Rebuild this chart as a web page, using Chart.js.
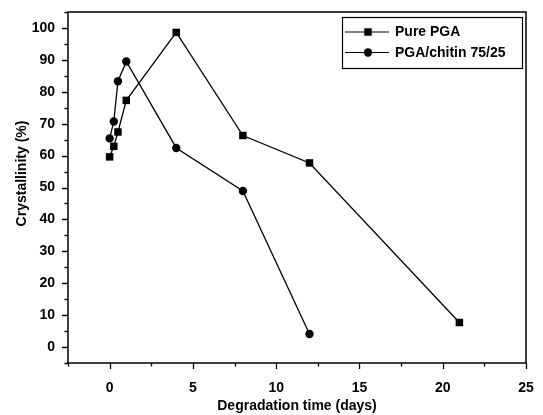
<!DOCTYPE html>
<html>
<head>
<meta charset="utf-8">
<script src="https://cdn.jsdelivr.net/npm/chart.js@4.4.0/dist/chart.umd.min.js"></script>
<style>
  html, body { margin: 0; padding: 0; background: #fff; }
  #wrap { width: 543px; height: 415px; }
</style>
</head>
<body>
<div id="wrap"><canvas id="crystChart" width="543" height="415"></canvas></div>
<script>
// Degradation time (days) for each series
const pgaDays = [0, 0.25, 0.5, 1, 4, 8, 12, 21];
const chitinDays = [0, 0.25, 0.5, 1, 4, 8, 12];

// Crystallinity (%) values
const pgaValues = [59.6, 62.9, 67.4, 77.3, 98.6, 66.3, 57.7, 7.7];
const chitinValues = [65.4, 70.7, 83.3, 89.5, 62.4, 48.9, 4.1];

const seriesNames = ['Pure PGA', 'PGA/chitin 75/25'];

const xLabels = [0, 5, 10, 15, 20, 25];
const yLabels = [0, 10, 20, 30, 40, 50, 60, 70, 80, 90, 100];

const fontFamily = '"Liberation Sans", Arial, sans-serif';

function toPoints(xs, ys) {
  return xs.map((x, i) => ({ x: x, y: ys[i] }));
}

// Box around the plot area plus major/minor tick marks
const frameAndTicks = {
  id: 'frameAndTicks',
  afterDraw(chart) {
    const { ctx, chartArea: a, scales: { x, y } } = chart;
    ctx.save();
    ctx.strokeStyle = '#000';
    ctx.lineWidth = 1.5;
    ctx.strokeRect(a.left, a.top, a.right - a.left, a.bottom - a.top);

    ctx.lineWidth = 1.3;
    ctx.beginPath();
    x.ticks.forEach(t => {
      const px = Math.round(x.getPixelForValue(t.value)) + 0.5;
      const len = xLabels.includes(t.value) ? 6 : 3.5;
      ctx.moveTo(px, a.bottom);
      ctx.lineTo(px, a.bottom + len);
    });
    y.ticks.forEach(t => {
      const py = Math.round(y.getPixelForValue(t.value)) + 0.5;
      const len = yLabels.includes(t.value) ? 6 : 3.5;
      ctx.moveTo(a.left, py);
      ctx.lineTo(a.left - len, py);
    });
    ctx.stroke();
    ctx.restore();
  }
};

// Legend in a box: line through marker, then label
const boxLegend = {
  id: 'boxLegend',
  afterDraw(chart) {
    const ctx = chart.ctx;
    const box = { left: 342, top: 17, right: 522, bottom: 68 };
    ctx.save();
    ctx.strokeStyle = '#000';
    ctx.lineWidth = 1.2;
    ctx.strokeRect(box.left + 0.5, box.top + 0.5, box.right - box.left, box.bottom - box.top);

    chart.data.datasets.forEach((ds, i) => {
      const rowY = 32 + i * 20.5;
      ctx.lineWidth = 1.2;
      ctx.beginPath();
      ctx.moveTo(345, rowY);
      ctx.lineTo(389, rowY);
      ctx.stroke();
      ctx.fillStyle = '#000';
      Chart.helpers.drawPoint(ctx, {
        pointStyle: ds.pointStyle,
        radius: ds.pointRadius,
        borderWidth: 0,
        rotation: 0
      }, 368, rowY);
      ctx.font = 'bold 14px ' + fontFamily;
      ctx.textBaseline = 'middle';
      ctx.textAlign = 'left';
      ctx.fillText(ds.label, 395, rowY + 0.5);
    });
    ctx.restore();
  }
};

const ctx = document.getElementById('crystChart').getContext('2d');

const myChart = new Chart(ctx, {
  type: 'scatter',
  data: {
    datasets: [
      {
        label: seriesNames[0],
        data: toPoints(pgaDays, pgaValues),
        showLine: true,
        borderColor: '#000',
        backgroundColor: '#000',
        borderWidth: 1.3,
        pointStyle: 'rect',
        pointRadius: 5.3,
        pointBorderWidth: 0,
        tension: 0
      },
      {
        label: seriesNames[1],
        data: toPoints(chitinDays, chitinValues),
        showLine: true,
        borderColor: '#000',
        backgroundColor: '#000',
        borderWidth: 1.3,
        pointStyle: 'circle',
        pointRadius: 4.2,
        pointBorderWidth: 0,
        tension: 0
      }
    ]
  },
  options: {
    responsive: false,
    animation: false,
    events: [],
    layout: { padding: { top: 12, right: 17, left: 0, bottom: 0 } },
    plugins: {
      legend: { display: false },
      tooltip: { enabled: false }
    },
    scales: {
      x: {
        type: 'linear',
        min: -2.5,
        max: 25,
        afterFit: scale => {
          scale.height = 52;
          scale.paddingLeft = 0;
          scale.paddingRight = 0;
        },
        grid: { display: false },
        border: { display: false },
        ticks: {
          stepSize: 2.5,
          autoSkip: false,
          maxRotation: 0,
          padding: 9,
          color: '#000',
          font: { family: fontFamily, size: 14, weight: 'bold' },
          callback: v => xLabels.includes(v) ? String(v) : ''
        },
        title: {
          display: true,
          text: 'Degradation time (days)',
          color: '#000',
          padding: { top: 0, bottom: 0 },
          font: { family: fontFamily, size: 14, weight: 'bold' }
        }
      },
      y: {
        type: 'linear',
        min: -5,
        max: 105,
        afterFit: scale => {
          scale.width = 68;
          scale.paddingTop = 0;
          scale.paddingBottom = 0;
        },
        grid: { display: false },
        border: { display: false },
        ticks: {
          stepSize: 5,
          autoSkip: false,
          padding: 5,
          color: '#000',
          font: { family: fontFamily, size: 14, weight: 'bold' },
          callback: v => yLabels.includes(v) ? String(v) : ''
        },
        title: {
          display: true,
          // leading en spaces nudge the centred title upward like the original
          text: '\u2002\u2002\u2002\u2002Crystallinity (%)',
          color: '#000',
          padding: { top: 14, bottom: 0 },
          font: { family: fontFamily, size: 14, weight: 'bold' }
        }
      }
    }
  },
  plugins: [frameAndTicks, boxLegend]
});
</script>
</body>
</html>
